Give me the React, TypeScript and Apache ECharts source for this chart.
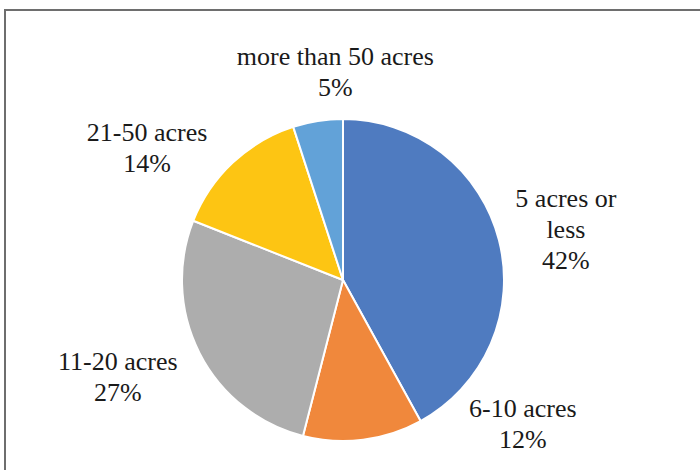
import React, { useEffect, useRef } from "react";
import * as echarts from "echarts";

const categories = ["5 acres or\nless", "6-10 acres", "11-20 acres", "21-50 acres", "more than 50 acres"];
const percents = [42, 12, 27, 14, 5];
const colors = ["#4f7bc0", "#f0883c", "#adadad", "#fdc513", "#62a2d8"];

// layout constants
const CX = 343;
const CY = 280;
const R = 161;
const FONT = "'Liberation Serif', 'Times New Roman', serif";
// Excel "best fit" nudges labels away from their slice's middle angle (degrees)
const labelAngleShift = [1.6, -44.1, 3.7, -12.8, 6.9];
// gap between pie edge and label box (px)
const labelGap = [8, 8, 17, 8, 13];

function midAngles(values: number[]): number[] {
  const total = values.reduce((a, b) => a + b, 0);
  let acc = 0;
  return values.map((v) => {
    const mid = ((acc + v / 2) / total) * 360;
    acc += v;
    return mid;
  });
}

export default function App() {
  const ref = useRef<HTMLDivElement>(null);
  useEffect(() => {
    if (!ref.current) return;
    const chart = echarts.init(ref.current, null, { renderer: "svg" });
    const mids = midAngles(percents);
    chart.setOption({
      animation: false,
      backgroundColor: "#ffffff",
      textStyle: { fontFamily: FONT },
      graphic: [
        {
          type: "polyline",
          shape: { points: [[5, 471], [5, 10], [701, 10]] },
          style: { stroke: "#6e6e6e", lineWidth: 2, fill: "none" },
          silent: true,
        },
      ],
      series: [
        {
          type: "pie",
          center: [CX, CY],
          radius: R,
          startAngle: 90,
          clockwise: true,
          avoidLabelOverlap: false,
          emphasis: { disabled: true },
          itemStyle: { borderColor: "#ffffff", borderWidth: 2 },
          label: {
            show: true,
            position: "outside",
            fontFamily: FONT,
            fontSize: 26,
            lineHeight: 31,
            color: "#1a1a1a",
            formatter: (p: any) => p.name + "\n" + p.value + "%",
          },
          labelLine: { show: false },
          labelLayout: (params: any) => {
            const i = params.dataIndex;
            const ang = ((mids[i] + labelAngleShift[i]) * Math.PI) / 180;
            const dx = Math.sin(ang);
            const dy = -Math.cos(ang);
            const w = params.labelRect.width / 2;
            const h = params.labelRect.height / 2;
            const d = R + labelGap[i] + Math.abs(dx) * w + Math.abs(dy) * h;
            return {
              x: CX + dx * d,
              y: CY + dy * d,
              align: "center",
              verticalAlign: "middle",
            };
          },
          data: categories.map((name, i) => ({
            name,
            value: percents[i],
            itemStyle: { color: colors[i] },
          })),
        },
      ],
    });
    return () => chart.dispose();
  }, []);
  return (
    <div
      ref={ref}
      style={{ position: "fixed", left: 0, top: 0, width: 700, height: 470 }}
    />
  );
}
